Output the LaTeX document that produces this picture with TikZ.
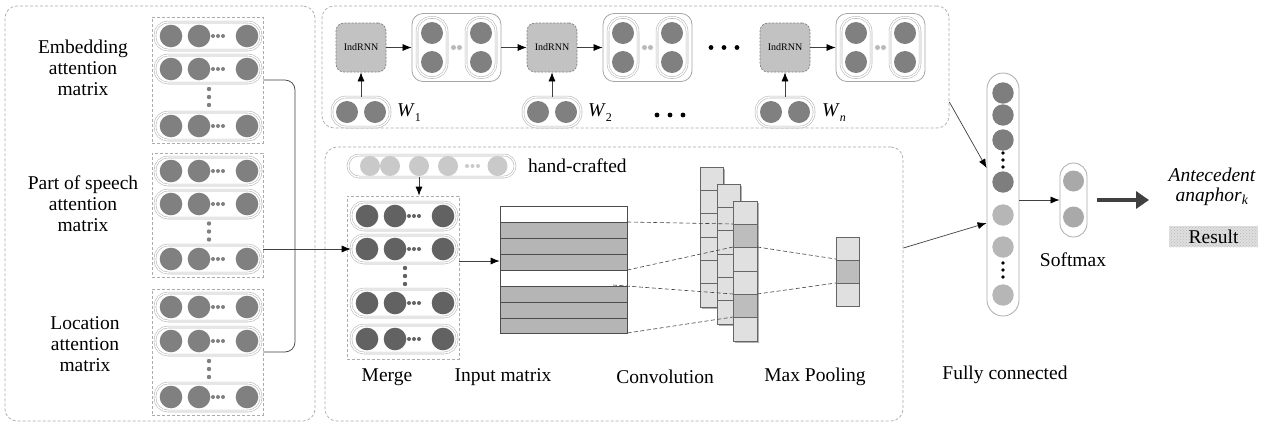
\documentclass[tikz,border=0pt]{standalone}
\usepackage{fontspec}
\setmainfont{Liberation Serif}
\usetikzlibrary{arrows.meta,fit,calc,patterns}
\definecolor{cmid}{HTML}{808080}
\definecolor{cdark}{HTML}{626262}
\definecolor{clight}{HTML}{C9C9C9}
\definecolor{cfclight}{HTML}{B6B6B6}
\definecolor{cfcdark}{HTML}{7E7E7E}
\definecolor{csoft}{HTML}{A9A9A9}
\definecolor{cline}{HTML}{404040}
\definecolor{cindrnn}{HTML}{C2C2C2}
\definecolor{ccell}{HTML}{E0E0E0}
\definecolor{ccelld}{HTML}{BDBDBD}
\definecolor{cmat}{HTML}{B5B5B5}
\tikzset{
  panel/.style={draw=gray!65, dash pattern=on 3pt off 2pt, line width=0.7pt, rounded corners=12pt, inner sep=0pt},
  grp/.style={draw=gray!65, dash pattern=on 3pt off 2pt, line width=0.7pt, inner sep=0pt},
  caps/.style={draw=gray!55, double=white, double distance=1.3pt, line width=0.6pt, rounded corners=13pt, inner sep=0pt},
  tbox/.style={draw=gray!70, line width=0.8pt, rounded corners=11pt, minimum width=89pt, minimum height=68pt, inner sep=0pt},
  indbox/.style={fill=cindrnn, draw=gray, dash pattern=on 2pt off 1.5pt, line width=0.7pt, rounded corners=8pt, minimum width=50pt, minimum height=49pt, inner sep=0pt, font=\fontsize{10}{12}\selectfont},
  arr/.style={draw=cline, line width=0.7pt, -{Latex[length=9pt,width=7pt,color=black]}},
  conn/.style={draw=cline, line width=0.7pt},
  dl/.style={draw=cline, dash pattern=on 4pt off 2.5pt, line width=0.6pt},
  cell/.style={fill=ccell, draw=gray!80!black, line width=0.6pt},
  celld/.style={fill=ccelld, draw=gray!80!black, line width=0.6pt},
  lbl/.style={align=center, inner sep=0pt},
  fcol/.style={draw=gray!65, line width=0.8pt, inner sep=0pt},
}
\newcommand{\hrowcap}[4]{%
  \node[caps, minimum width=106pt, minimum height=28pt] (#1) at (#2,#3) {};
  \foreach \myd in {-37,-9,39} \fill[#4] ($(#1.center)+(\myd,0)$) circle[radius=11.3pt];
  \foreach \myd in {5,10,15} \fill[#4] ($(#1.center)+(\myd,0)$) circle[radius=2pt];
}
\newcommand{\vdotsat}[3]{%
  \foreach \myd in {-8,0,8} \fill[#3] (#1,#2+\myd) circle[radius=2.2pt];
}
\newcommand{\topbox}[2]{%
  \node[tbox] (#1) at (#2,47.5) {};
  \node[caps, minimum width=30pt, minimum height=60pt, rounded corners=14pt] (#1l) at (#2-24.5,47.5) {};
  \node[caps, minimum width=30pt, minimum height=60pt, rounded corners=14pt] (#1r) at (#2+24.5,47.5) {};
  \foreach \myx in {-24.5,24.5} \foreach \myy in {-14.5,14.5}
    \fill[cmid] ($(#1.center)+(\myx,\myy)$) circle[radius=11pt];
  \foreach \myx in {-3,3} \fill[gray!55] ($(#1.center)+(\myx,0)$) circle[radius=2.5pt];
}
\newcommand{\wcap}[2]{%
  \node[caps, minimum width=58pt, minimum height=30pt, rounded corners=14pt] (#1) at (#2,112) {};
  \foreach \myx in {-14,14} \fill[cmid] ($(#1.center)+(\myx,0)$) circle[radius=11pt];
}
\begin{document}
\begin{tikzpicture}[x=1pt,y=-1pt,font=\fontsize{19.5}{21}\selectfont]
\useasboundingbox (0,0) rectangle (1267,424);
\fill[white] (0,0) rectangle (1267,424);

% ---------- left panel ----------
\node[panel, fit={(5,6)(315,421)}] (lp) {};
\node[grp, fit={(152,17)(263,143)}] (g1) {};
\node[grp, fit={(152,153)(263,277)}] (g2) {};
\node[grp, fit={(152,289)(263,415)}] (g3) {};
\hrowcap{e1}{208}{36}{cmid}
\hrowcap{e2}{208}{69}{cmid}
\hrowcap{e3}{208}{126}{cmid}
\vdotsat{209}{97}{cmid}
\hrowcap{p1}{208}{171}{cmid}
\hrowcap{p2}{208}{204}{cmid}
\hrowcap{p3}{208}{259}{cmid}
\vdotsat{209}{231.5}{cmid}
\hrowcap{l1}{208}{307}{cmid}
\hrowcap{l2}{208}{341}{cmid}
\hrowcap{l3}{208}{397}{cmid}
\vdotsat{209}{369}{cmid}
\node[lbl] (le) at (83,68) {Embedding\\attention\\matrix};
\node[lbl] (lps) at (83,204) {Part of speech\\attention\\matrix};
\node[lbl] (ll) at (85,344) {Location\\attention\\matrix};

% ---------- top panel ----------
\node[panel, fit={(322,6)(949,128)}] (tp) {};
\node[indbox] (i1) at (361,47.5) {IndRNN};
\node[indbox] (i2) at (552,47.5) {IndRNN};
\node[indbox] (i3) at (785,47.5) {IndRNN};
\topbox{b1}{456.5}
\topbox{b2}{647.5}
\topbox{b3}{880.5}
\wcap{w1}{361}
\wcap{w2}{552}
\wcap{w3}{785}
\node[anchor=west, inner sep=0pt] (w1t) at (397,113) {\textit{W}\raisebox{-5pt}{\fontsize{12}{12}\selectfont 1}};
\node[anchor=west, inner sep=0pt] (w2t) at (588,113) {\textit{W}\raisebox{-5pt}{\fontsize{12}{12}\selectfont 2}};
\node[anchor=west, inner sep=0pt] (w3t) at (822,113) {\textit{W}\raisebox{-5pt}{\fontsize{12}{12}\selectfont\itshape n}};
\foreach \myx in {711,724,737} \fill[black] (\myx,47.5) circle[radius=2.4pt];
\foreach \myx in {657,670,683} \fill[black] (\myx,115) circle[radius=2.4pt];
\draw[arr] (i1) -- (b1);
\draw[arr] (b1) -- (i2);
\draw[arr] (i2) -- (b2);
\draw[arr] (i3) -- (b3);
\draw[arr] (w1) -- (i1);
\draw[arr] (w2) -- (i2);
\draw[arr] (w3) -- (i3);

% ---------- middle panel ----------
\node[panel, fit={(325,147)(903,421)}] (mp) {};
\node[caps, minimum width=167pt, minimum height=22pt, rounded corners=11pt] (hc) at (431.5,166) {};
\foreach \myx in {370,390,419,448,497.5} \fill[clight] (\myx,166) circle[radius=10pt];
\foreach \myx in {467,472.5,478} \fill[clight] (\myx,166) circle[radius=2pt];
\coordinate (hc3) at (419,166);
\node[anchor=west, inner sep=0pt] (hct) at (528,166) {hand-crafted};

\node[grp, fit={(347,196)(459,359)}] (mg) {};
\hrowcap{m1}{404}{216}{cdark}
\hrowcap{m2}{404}{249}{cdark}
\hrowcap{m3}{404}{303}{cdark}
\hrowcap{m4}{404}{339}{cdark}
\vdotsat{405}{276}{cdark}
\draw[arr] (hc3 |- hc.south) -- (hc3 |- mg.north);

% input matrix
\fill[cmat] (500,222) rectangle (627,270);
\fill[cmat] (500,286) rectangle (627,333);
\foreach \myy in {222,238,254,270,286,302,318} \draw[gray!60!black, line width=0.6pt] (500,\myy) -- (627,\myy);
\node[draw=gray!60!black, line width=0.7pt, minimum width=127pt, minimum height=127pt, inner sep=0pt] (im) at (563.5,269.5) {};
\draw[arr] (mg.east |- 0,261) -- (im.west |- 0,261);

% convolution stacks
\fill[gray!60] (701.5,168.5) rectangle (724.5,308.5);
\foreach \i in {0,...,5} \draw[cell] (700,{167+23.33*\i}) rectangle ++(23,23.33);
\node[fit={(700,167)(723,307)}, inner sep=0pt] (s1) {};
\fill[gray!60] (718.5,185.5) rectangle (741.5,325.5);
\foreach \i in {0,...,5} \draw[cell] (717,{184+23.33*\i}) rectangle ++(23,23.33);
\node[fit={(717,184)(740,324)}, inner sep=0pt] (s2) {};
\draw[dl] (im.east |- 0,222) -- (733,224);
\draw[dl] (im.east |- 0,270) -- (733,247);
\draw[dl] (613,285) -- (733,294);
\draw[dl] (im.east |- 0,333) -- (733,317);
\fill[gray!60] (734.5,202.5) rectangle (758.5,342.5);
\foreach \i in {0,...,5} \draw[cell] (733,{201+23.33*\i}) rectangle ++(24,23.33);
\draw[celld] (733,224.33) rectangle ++(24,23.33);
\draw[celld] (733,294.33) rectangle ++(24,23.33);
\node[fit={(733,201)(757,341)}, inner sep=0pt] (s3) {};
% max pooling
\draw[cell] (836,237) rectangle ++(23,23);
\draw[celld] (836,260) rectangle ++(23,23);
\draw[cell] (836,283) rectangle ++(23,23);
\node[fit={(836,237)(859,306)}, inner sep=0pt] (mpool) {};
\draw[dl] (s3.east |- 0,247) -- (mpool.west |- 0,259);
\draw[dl] (s3.east |- 0,294) -- (mpool.west |- 0,283);

\node[lbl] (tmerge) at (387,377) {Merge};
\node[lbl] (tinput) at (503,377) {Input matrix};
\node[lbl] (tconv) at (665,377) {Convolution};
\node[lbl] (tpool) at (815,377) {Max Pooling};

% left connectors
\draw[conn, rounded corners=10pt] (g1.east |- 0,80) -- (295,80) -- (295,352) -- (g3.east |- 0,352);
\draw[arr] (g2.east |- m2) -- (m2.west);

% ---------- fully connected ----------
\node[fcol, minimum width=32pt, minimum height=243pt, rounded corners=16pt] (fc) at (1003,194.5) {};
\foreach \myy in {93,115,140,182} \fill[cfcdark] (1003,\myy) circle[radius=10.7pt];
\foreach \myy in {215,247,295} \fill[cfclight] (1003,\myy) circle[radius=10.7pt];
\foreach \myy in {153,160,167,263,270,277} \fill[black] (1003,\myy) circle[radius=1.9pt];
\node[lbl] (tfc) at (1005,375) {Fully connected};
\draw[arr] (tp.east |- 0,102) -- (fc.west |- 0,168);
\draw[arr] (mp.east |- 0,248) -- (fc.west |- 0,223);

% softmax
\node[fcol, minimum width=27pt, minimum height=74pt, rounded corners=13.5pt] (sm) at (1073.5,200) {};
\fill[csoft] (1073.5,181) circle[radius=10.5pt];
\fill[csoft] (1073.5,217) circle[radius=10.5pt];
\node[lbl] (tsm) at (1073,260) {Softmax};
\draw[arr] (fc.east |- sm.west) -- (sm.west);

\node[lbl, font=\fontsize{19.5}{20}\selectfont\itshape] (ante) at (1212,187) {Antecedent\\anaphor\textsubscript{k}};
\coordinate (thickend) at (1149,200);
\draw[line width=4.5pt, draw=cline, -{Triangle[length=13pt,width=17pt]}] ([xshift=10pt]sm.east) -- (thickend);
\node[preaction={fill=gray!25}, pattern=crosshatch dots, pattern color=gray!55, minimum width=89pt, minimum height=21pt, inner sep=0pt] (res) at (1213.5,236.5) {};
\node[inner sep=0pt] (rest) at (1213.5,236.5) {Result};
\end{tikzpicture}
\end{document}
